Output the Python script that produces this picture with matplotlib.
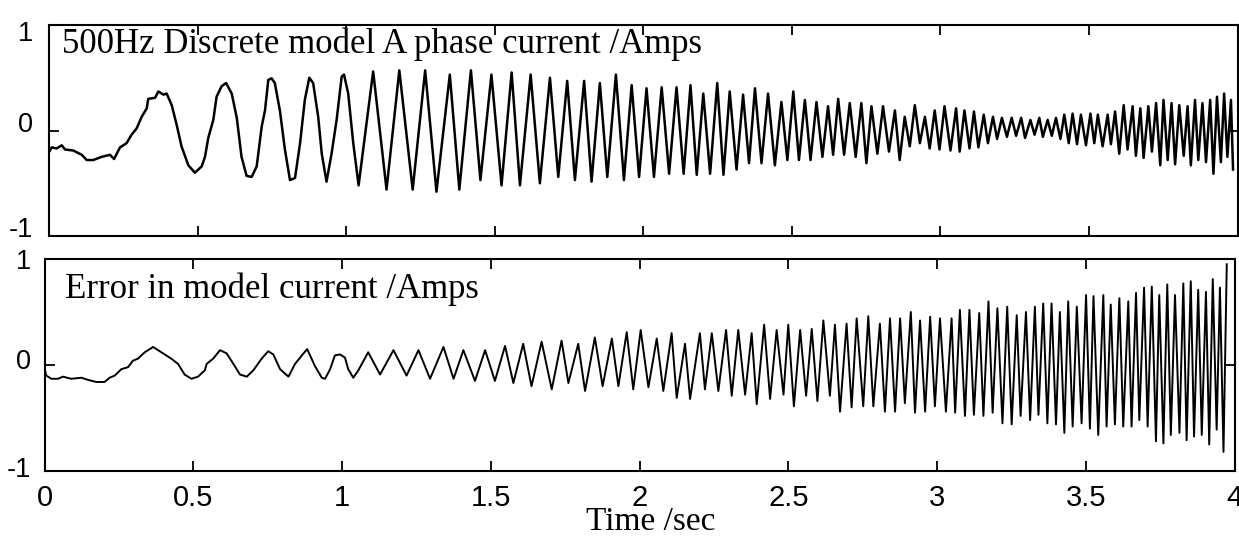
import matplotlib
matplotlib.use("Agg")
import matplotlib.pyplot as plt
from matplotlib.transforms import ScaledTranslation
import numpy as np

# ---- phase current from the 500 Hz discrete model (Amps) ----
current_t_0 = [0.001, 0.009, 0.026, 0.043, 0.054, 0.082, 0.110, 0.127, 0.149, 0.177,
               0.205, 0.219, 0.239, 0.261, 0.278, 0.295, 0.312, 0.329, 0.334, 0.357,
               0.368, 0.385, 0.396, 0.413, 0.430, 0.446, 0.469, 0.491, 0.514, 0.525,
               0.536, 0.553, 0.564, 0.581, 0.596, 0.615, 0.632, 0.648, 0.665, 0.682,
               0.699, 0.716, 0.727, 0.738, 0.749, 0.760, 0.777, 0.794, 0.811, 0.828,
               0.845, 0.861, 0.876, 0.889, 0.906, 0.918, 0.934, 0.951, 0.968, 0.985,
               0.993, 1.007, 1.024, 1.042]
current_a_0 = [-0.20, -0.16, -0.17, -0.14, -0.18, -0.19, -0.23, -0.28, -0.28, -0.25,
               -0.23, -0.27, -0.16, -0.12, -0.04, 0.02, 0.13, 0.21, 0.30, 0.31,
               0.37, 0.34, 0.35, 0.24, 0.05, -0.15, -0.33, -0.40, -0.34, -0.25,
               -0.07, 0.10, 0.32, 0.42, 0.45, 0.35, 0.12, -0.25, -0.43, -0.44,
               -0.34, 0.04, 0.19, 0.48, 0.495, 0.45, 0.19, -0.18, -0.47, -0.45,
               -0.12, 0.29, 0.50, 0.45, 0.13, -0.22, -0.485, -0.22, 0.10, 0.51,
               0.53, 0.35, -0.12, -0.52]

current_t_1 = [1.091, 1.136, 1.179, 1.224, 1.266, 1.304, 1.349, 1.381,
               1.420, 1.452, 1.489, 1.523, 1.557, 1.585, 1.621, 1.652, 1.686, 1.714,
               1.744, 1.770, 1.801, 1.826, 1.854, 1.879, 1.908, 1.935]
current_a_1 = [0.56, -0.56, 0.57, -0.56, 0.57, -0.58, 0.53, -0.56,
               0.57, -0.47, 0.53, -0.52, 0.55, -0.52, 0.53, -0.50, 0.50, -0.44,
               0.47, -0.47, 0.47, -0.485, 0.45, -0.44, 0.53, -0.47]

current_t_2 = [1.961, 1.986, 2.011, 2.036, 2.062, 2.087, 2.112, 2.136, 2.159, 2.180,
               2.202, 2.225, 2.249, 2.270, 2.291, 2.314, 2.336, 2.356, 2.376, 2.398,
               2.420, 2.443, 2.465, 2.485, 2.505, 2.524, 2.544, 2.563, 2.583, 2.603,
               2.622, 2.639, 2.656, 2.676, 2.695, 2.715, 2.734, 2.751, 2.768, 2.788,
               2.807, 2.827, 2.847, 2.863, 2.880, 2.897, 2.914, 2.931, 2.948]
current_a_2 = [0.43, -0.44, 0.40, -0.44, 0.41, -0.41, 0.41, -0.41, 0.43, -0.42,
               0.35, -0.41, 0.45, -0.42, 0.37, -0.37, 0.34, -0.31, 0.40, -0.31,
               0.35, -0.33, 0.27, -0.28, 0.37, -0.28, 0.29, -0.28, 0.27, -0.25,
               0.23, -0.23, 0.30, -0.23, 0.26, -0.25, 0.26, -0.31, 0.23, -0.22,
               0.23, -0.20, 0.19, -0.28, 0.13, -0.15, 0.24, -0.12, 0.13]

current_t_3 = [2.964, 2.981, 2.997, 3.014, 3.034, 3.053, 3.065, 3.081, 3.098, 3.113,
               3.128, 3.146, 3.160, 3.177, 3.191, 3.207, 3.224, 3.240, 3.255, 3.272,
               3.285, 3.303, 3.317, 3.333, 3.345, 3.361, 3.375, 3.389, 3.404, 3.417,
               3.432, 3.445, 3.460, 3.473, 3.490, 3.505, 3.518, 3.530, 3.546, 3.563,
               3.574, 3.588, 3.602, 3.617, 3.630, 3.647, 3.658, 3.673, 3.684, 3.700,
               3.712, 3.726, 3.740, 3.751, 3.765, 3.778, 3.790, 3.804, 3.819, 3.832,
               3.843, 3.857, 3.868, 3.882, 3.894, 3.908, 3.919, 3.931, 3.944, 3.955,
               3.966, 3.978, 3.985]
current_a_3 = [-0.17, 0.19, -0.18, 0.23, -0.19, 0.21, -0.20, 0.19, -0.17, 0.18,
               -0.16, 0.15, -0.12, 0.13, -0.08, 0.12, -0.06, 0.12, -0.05, 0.12,
               -0.07, 0.10, -0.04, 0.12, -0.06, 0.10, -0.05, 0.12, -0.08, 0.15,
               -0.12, 0.16, -0.13, 0.15, -0.14, 0.16, -0.12, 0.15, -0.15, 0.15,
               -0.13, 0.18, -0.22, 0.24, -0.18, 0.23, -0.24, 0.21, -0.26, 0.23,
               -0.20, 0.26, -0.33, 0.29, -0.28, 0.26, -0.32, 0.24, -0.24, 0.23,
               -0.33, 0.29, -0.28, 0.26, -0.30, 0.29, -0.41, 0.32, -0.30, 0.35,
               -0.25, 0.29, -0.37]

# ---- error in the model current (Amps) ----
error_t_0 = [0.001, 0.006, 0.023, 0.045, 0.062, 0.090, 0.124, 0.146, 0.174, 0.202,
             0.219, 0.236, 0.258, 0.281, 0.297, 0.314, 0.337, 0.365, 0.382, 0.404,
             0.426, 0.449, 0.471, 0.494, 0.516, 0.539, 0.545, 0.567, 0.590, 0.612,
             0.635, 0.657, 0.680, 0.702, 0.730, 0.752, 0.769, 0.792, 0.820, 0.842,
             0.865, 0.883, 0.909, 0.932, 0.943, 0.960, 0.976, 0.993, 1.010, 1.021,
             1.038, 1.055]
error_a_0 = [-0.04, -0.10, -0.13, -0.13, -0.11, -0.13, -0.12, -0.14, -0.16, -0.16,
             -0.12, -0.10, -0.04, -0.02, 0.04, 0.06, 0.12, 0.17, 0.14, 0.10,
             0.06, 0.01, -0.09, -0.13, -0.11, -0.05, 0.01, 0.06, 0.14, 0.11,
             0.01, -0.09, -0.11, -0.05, 0.06, 0.13, 0.10, -0.04, -0.11, 0.01,
             0.09, 0.15, -0.01, -0.12, -0.13, -0.04, 0.09, 0.10, 0.07, -0.04,
             -0.12, -0.05]

error_t_1 = [1.088, 1.128, 1.173, 1.217, 1.257, 1.296, 1.341, 1.375,
             1.408, 1.447, 1.481, 1.514, 1.548, 1.576, 1.609, 1.637, 1.671, 1.705,
             1.738, 1.761, 1.794, 1.817, 1.850, 1.876, 1.907, 1.929]
error_a_1 = [0.12, -0.09, 0.14, -0.10, 0.14, -0.13, 0.17, -0.13,
             0.14, -0.15, 0.14, -0.15, 0.18, -0.17, 0.20, -0.20, 0.22, -0.23,
             0.23, -0.17, 0.20, -0.245, 0.26, -0.20, 0.25, -0.20]

error_t_2 = [1.957, 1.979, 2.004, 2.030, 2.058, 2.080, 2.108, 2.125, 2.153, 2.170,
             2.203, 2.220, 2.243, 2.265, 2.291, 2.310, 2.332, 2.355, 2.377, 2.394,
             2.419, 2.439, 2.461, 2.484, 2.500, 2.519, 2.540, 2.560, 2.579, 2.598,
             2.618, 2.640, 2.657, 2.674, 2.696, 2.713, 2.730, 2.752, 2.769, 2.786,
             2.808, 2.825, 2.842, 2.859, 2.876, 2.892, 2.912, 2.926, 2.943, 2.960]
error_a_2 = [0.31, -0.23, 0.33, -0.21, 0.25, -0.245, 0.30, -0.31, 0.20, -0.32,
             0.30, -0.23, 0.30, -0.245, 0.33, -0.29, 0.33, -0.28, 0.30, -0.37,
             0.38, -0.32, 0.33, -0.28, 0.38, -0.39, 0.33, -0.29, 0.34, -0.34,
             0.42, -0.29, 0.38, -0.44, 0.39, -0.40, 0.44, -0.39, 0.46, -0.39,
             0.39, -0.44, 0.44, -0.44, 0.44, -0.36, 0.50, -0.45, 0.42, -0.44]

error_t_3 = [2.977, 2.993, 3.010, 3.030, 3.049, 3.061, 3.077, 3.094, 3.109, 3.124,
             3.142, 3.156, 3.173, 3.187, 3.203, 3.220, 3.236, 3.251, 3.268, 3.281,
             3.299, 3.313, 3.329, 3.341, 3.357, 3.371, 3.385, 3.400, 3.413, 3.428,
             3.441, 3.456, 3.470, 3.486, 3.501, 3.514, 3.526, 3.542, 3.559, 3.570,
             3.584, 3.598, 3.613, 3.626, 3.643, 3.654, 3.669, 3.680, 3.696, 3.708,
             3.722, 3.736, 3.747, 3.761, 3.774, 3.786, 3.800, 3.815, 3.828, 3.839,
             3.853, 3.864, 3.878, 3.890, 3.904, 3.915, 3.927, 3.940, 3.951, 3.963,
             3.974]
error_a_3 = [0.455, -0.39, 0.44, -0.44, 0.44, -0.45, 0.52, -0.48, 0.52, -0.47,
             0.49, -0.48, 0.60, -0.45, 0.535, -0.55, 0.55, -0.56, 0.47, -0.48,
             0.50, -0.52, 0.55, -0.47, 0.58, -0.55, 0.58, -0.56, 0.50, -0.64,
             0.60, -0.58, 0.55, -0.55, 0.66, -0.60, 0.65, -0.66, 0.66, -0.58,
             0.57, -0.56, 0.63, -0.58, 0.60, -0.58, 0.68, -0.52, 0.73, -0.58,
             0.74, -0.72, 0.66, -0.74, 0.76, -0.66, 0.66, -0.64, 0.77, -0.71,
             0.79, -0.675, 0.71, -0.66, 0.69, -0.75, 0.81, -0.61, 0.73, -0.82,
             0.95]

x_ticks = [0, 0.5, 1, 1.5, 2, 2.5, 3, 3.5, 4]
x_tick_labels = ["0", "0.5", "1", "1.5", "2", "2.5", "3", "3.5", "4"]
y_ticks = [-1, 0, 1]
y_tick_labels = ["-1", "0", "1"]

current_title = "500Hz Discrete model A phase current /Amps"
error_title = "Error in model current /Amps"
x_title = "Time /sec"

SANS = ["Liberation Sans", "DejaVu Sans"]
SERIF = ["Liberation Serif", "DejaVu Serif"]

W, H = 1239, 537
fig = plt.figure(figsize=(W / 100, H / 100), dpi=100)
fig.patch.set_facecolor("white")


def px_axes(left, top, right, bottom):
    return fig.add_axes([left / W, 1 - bottom / H, (right - left) / W, (bottom - top) / H])


ax_cur = px_axes(49, 25, 1237.5, 236)
ax_err = px_axes(44.5, 259, 1234.5, 471)


def style_axes(ax, show_x_labels, y_pad, y_label_shift):
    ax.set_xlim(0, 4)
    ax.set_ylim(-1, 1)
    ax.set_xticks(x_ticks)
    ax.set_yticks(y_ticks)
    ax.set_yticklabels(y_tick_labels)
    if show_x_labels:
        ax.set_xticklabels(x_tick_labels)
    else:
        ax.set_xticklabels([])
    for s in ax.spines.values():
        s.set_linewidth(1.5)
        s.set_color("black")
    ax.tick_params(axis="both", direction="in", length=7.5, width=1.3,
                   top=True, right=True, color="black")
    ax.tick_params(axis="x", pad=9.0, labelsize=21)
    ax.tick_params(axis="y", pad=y_pad, labelsize=19.5)
    for lab in ax.get_xticklabels() + ax.get_yticklabels():
        lab.set_fontfamily(SANS)
    for lab, dy in zip(ax.get_yticklabels(), y_label_shift):
        lab.set_transform(lab.get_transform() +
                          ScaledTranslation(0, dy / 100, fig.dpi_scale_trans))


style_axes(ax_cur, False, 11.3, [9, 9, -6])
style_axes(ax_err, True, 9.4, [4, 6, 0])

cur_t = np.concatenate([current_t_0, current_t_1, current_t_2, current_t_3])
cur_a = np.concatenate([current_a_0, current_a_1, current_a_2, current_a_3])
err_t = np.concatenate([error_t_0, error_t_1, error_t_2, error_t_3])
err_a = np.concatenate([error_a_0, error_a_1, error_a_2, error_a_3])

ax_cur.plot(cur_t, cur_a, color="black", lw=1.8, solid_joinstyle="round")
ax_err.plot(err_t, err_a, color="black", lw=1.4, solid_joinstyle="round")

ax_cur.text((62 - 49) / 1188.5, (236 - 53) / 211, current_title,
            transform=ax_cur.transAxes, va="baseline", ha="left",
            fontsize=25, family=SERIF)
ax_err.text((65 - 44.5) / 1190, (471 - 298) / 212, error_title,
            transform=ax_err.transAxes, va="baseline", ha="left",
            fontsize=25, family=SERIF)
fig.text(650.5 / W, 1 - 529.5 / H, x_title, ha="center", va="baseline",
         fontsize=24, family=SERIF)

fig.savefig("out.png", dpi=100, facecolor="white")
